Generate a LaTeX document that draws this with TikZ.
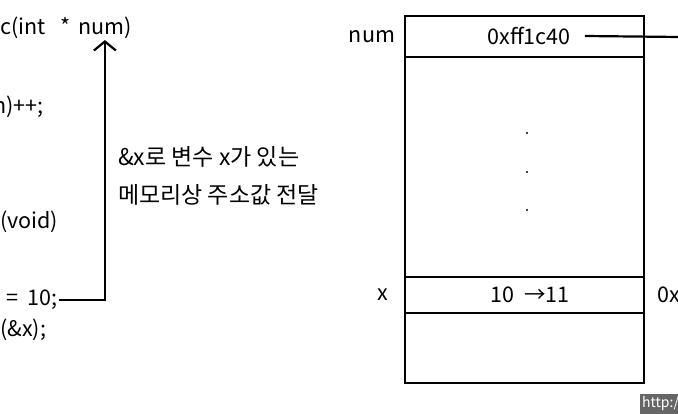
\documentclass[tikz,border=0pt]{standalone}
\usepackage{fontspec}
\setmainfont{Noto Sans CJK KR}
\usetikzlibrary{arrows.meta,positioning}

\begin{document}
\begin{tikzpicture}[x=1pt,y=-1pt]
            \tikzset{code/.style = {anchor=west, inner sep=1pt, font=\fontsize{21.5}{24}\selectfont}}
            \tikzset{note/.style = {code, font=\fontsize{23}{26}\selectfont}}
            \tikzset{label/.style = {inner sep=0pt, font=\fontsize{21.5}{24}\selectfont}}
            \tikzset{cell/.style = {draw, line width=2.2pt, minimum width=239pt, inner sep=0pt, outer sep=0pt}}
            \tikzset{link/.style = {draw, line width=2.2pt}}
            \useasboundingbox (0,0) rectangle (678,414);
            \clip (0,0) rectangle (678,414);
            % code
            \node[code] (sig) at (-1,28) {c(int\ \ \ *};
            \node[code] (numarg) at (77,28) {num)};
            \node[code] (inc) at (-8,107) {n)++;};
            \node[code] (mainsig) at (-1,222) {(void)};
            \node[code] (ten) at (5,300) {=\ \ 10;};
            \node[code] (call) at (-1,330) {(\&x);};
            % note
            \node[note] (note1) at (117,157) {\&x로 변수 x가 있는};
            \node[note] (note2) at (117,195) {메모리상 주소값 전달};
            % memory
            \node[cell, minimum height=41pt] (cnum) at (524.5,36.5) {};
            \node[cell, minimum height=220pt] (cdots) at (524.5,167) {};
            \node[cell, minimum height=36pt] (cx) at (524.5,295) {};
            \node[cell, minimum height=70pt] (cend) at (524.5,348) {};
            \fill (527,133) circle (1.1pt) (527,172) circle (1.1pt) (527,210) circle (1.1pt);
            \node[label] (lnum) at (372,37) {num};
            \node[label] (lx) at (383,295) {x};
            \node[label] (addr) at (529,36) {0xff1c40};
            \node[label] (val) at (530,295) {10 \ →11};
            \node[label, anchor=west] (xaddr) at (657,295) {0x};
            \coordinate (numptr) at (680,37);
            % edges
            \draw[link, -{Straight Barb[length=9pt,width=22pt]}] (ten.east) -| (numarg.south);
            \draw[link] ([xshift=14pt]addr.east) -- (numptr);
            % mark
            \node[anchor=south west, fill=black!60, text=white, minimum height=20pt, inner sep=2pt,
                  font=\fontsize{14}{16}\selectfont] (mark) at (640,414) {http://};
        \end{tikzpicture}
\end{document}
